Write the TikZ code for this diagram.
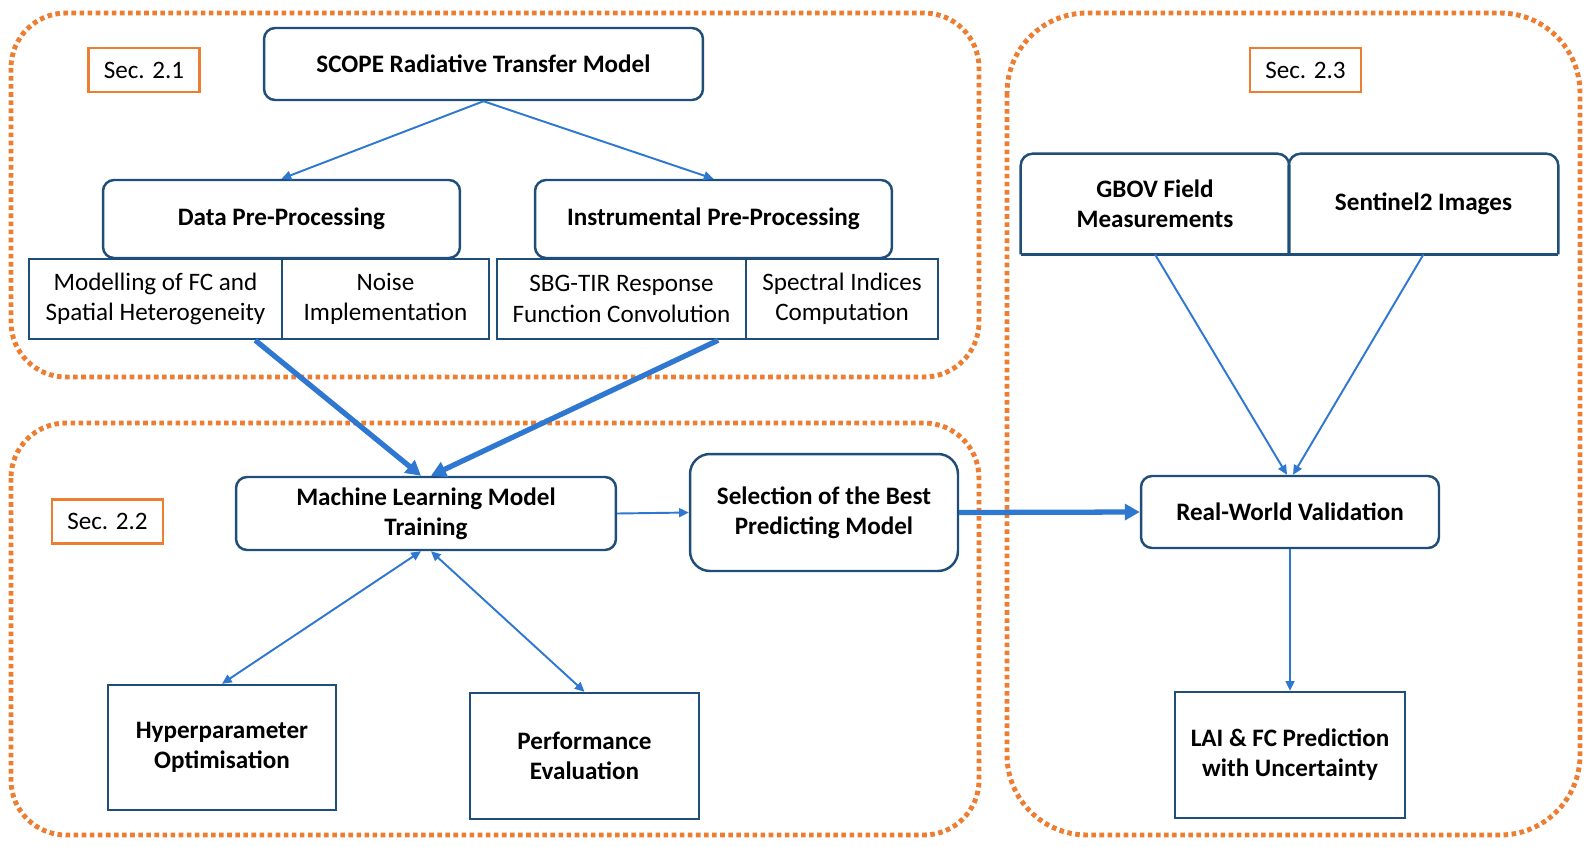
\documentclass[tikz,border=0pt]{standalone}
\usepackage{fontspec}
\setmainfont{Carlito}
\usetikzlibrary{arrows.meta,positioning}
\definecolor{boxblue}{HTML}{1F4E79}
\definecolor{arrowblue}{HTML}{2E78D2}
\definecolor{secorange}{HTML}{ED7D31}

\begin{document}
\begin{tikzpicture}[x=0.02cm,y=-0.02cm,
  font=\fontsize{14.3}{17.2}\selectfont,
  group/.style={secorange,line width=2.8pt,dash pattern=on 2.6pt off 2pt},
  seclabel/.style={draw=secorange,line width=1.3pt,minimum width=2.22cm,minimum height=0.88cm,inner sep=0pt},
  roundbox/.style={draw=boxblue,line width=1.4pt,rounded corners=0.22cm,align=center,inner sep=0pt,font=\fontsize{14.3}{17.2}\selectfont\bfseries},
  subbox/.style={draw=boxblue,line width=1.4pt,align=center,inner sep=0pt,minimum height=1.6cm},
  outbox/.style={draw=boxblue,line width=1.4pt,align=center,inner sep=0pt,font=\fontsize{14.3}{17.2}\selectfont\bfseries},
  flow/.style={arrowblue,line width=1.1pt,-{Triangle[length=5.5pt,width=5pt]}},
  twoflow/.style={arrowblue,line width=1.1pt,{Triangle[length=5.5pt,width=5pt]}-{Triangle[length=5.5pt,width=5pt]}},
  bigflow/.style={arrowblue,line width=3pt,-{Triangle[length=8.5pt,width=9pt]}}]
\useasboundingbox (0,0) rectangle (1589,846);
% dotted section frames
\draw[group,rounded corners=1.1cm] (11,13) rectangle (979,377);
\draw[group,rounded corners=1.1cm] (11,423) rectangle (979,835);
\draw[group,rounded corners=1.6cm] (1007,13) rectangle (1580,835);
\node[seclabel] (sec1) at (144,70) {Sec. 2.1};
\node[seclabel] (sec2) at (107.5,521.5) {Sec. 2.2};
\node[seclabel] (sec3) at (1305.5,70) {Sec. 2.3};
% Sec. 2.1
\node[roundbox,minimum width=8.78cm,minimum height=1.44cm] (scope) at (483.5,64) {SCOPE Radiative Transfer Model};
\node[roundbox,minimum width=7.14cm,minimum height=1.56cm] (dpp) at (281.5,219) {Data Pre-Processing};
\node[roundbox,minimum width=7.14cm,minimum height=1.56cm] (ipp) at (713.5,219) {Instrumental Pre-Processing};
\node[subbox,minimum width=5.06cm] (fcmodel) at (155.5,299) {Modelling of FC and\\Spatial Heterogeneity};
\node[subbox,minimum width=4.14cm] (noise) at (385.5,299) {Noise\\Implementation};
\node[subbox,minimum width=4.98cm] (sbg) at (621.5,299) {SBG-TIR Response\\Function Convolution};
\node[subbox,minimum width=3.84cm] (spec) at (842,299) {Spectral Indices\\Computation};
% Sec. 2.2
\node[roundbox,minimum width=7.6cm,minimum height=1.46cm] (ml) at (426,513.5) {Machine Learning Model\\Training};
\node[roundbox,rounded corners=0.4cm,minimum width=5.36cm,minimum height=2.34cm] (sel) at (824,512.5) {Selection of the Best\\Predicting Model};
\node[outbox,minimum width=4.56cm,minimum height=2.5cm] (hyper) at (222,747.5) {Hyperparameter\\Optimisation};
\node[outbox,minimum width=4.58cm,minimum height=2.52cm] (perf) at (584.5,756) {Performance\\Evaluation};
% Sec. 2.3
\node[align=center,inner sep=0pt,font=\fontsize{14.3}{17.2}\selectfont\bfseries,minimum width=5.36cm,minimum height=2cm] (gbov) at (1155,204) {GBOV Field\\Measurements};
\node[align=center,inner sep=0pt,font=\fontsize{14.3}{17.2}\selectfont\bfseries,minimum width=5.38cm,minimum height=2cm] (sent) at (1423.5,204) {Sentinel2 Images};
\draw[boxblue,line width=1.4pt,rounded corners=0.24cm] (gbov.south west) -- (gbov.north west) -- (gbov.north east) -- (gbov.south east);
\draw[boxblue,line width=1.4pt,rounded corners=0.24cm] (sent.south west) -- (sent.north west) -- (sent.north east) -- (sent.south east);
\draw[boxblue,line width=1.4pt] (gbov.south west) -- (sent.south east);
\node[roundbox,minimum width=5.96cm,minimum height=1.44cm] (rwv) at (1290,512) {Real-World Validation};
\node[outbox,minimum width=4.6cm,minimum height=2.52cm] (lai) at (1290,755) {LAI \& FC Prediction\\with Uncertainty};
% connectors
\draw[flow] (scope.south) -- (dpp.north);
\draw[flow] (scope.south) -- (ipp.north);
\draw[bigflow] ([xshift=-0.56cm]fcmodel.south east) -- ([xshift=-0.1cm]ml.north);
\draw[bigflow] ([xshift=-0.58cm]sbg.south east) -- ([xshift=0.1cm]ml.north);
\draw[twoflow] ([xshift=-0.1cm]ml.south) -- (hyper.north);
\draw[twoflow] ([xshift=0.1cm]ml.south) -- (perf.north);
\draw[flow] (ml.east) -- (sel.west);
\draw[bigflow] (sel.east) -- (rwv.west);
\draw[flow] (gbov.south) -- ([xshift=-0.06cm]rwv.north);
\draw[flow] (sent.south) -- ([xshift=0.06cm]rwv.north);
\draw[flow] (rwv.south) -- (lai.north);
\end{tikzpicture}
\end{document}
